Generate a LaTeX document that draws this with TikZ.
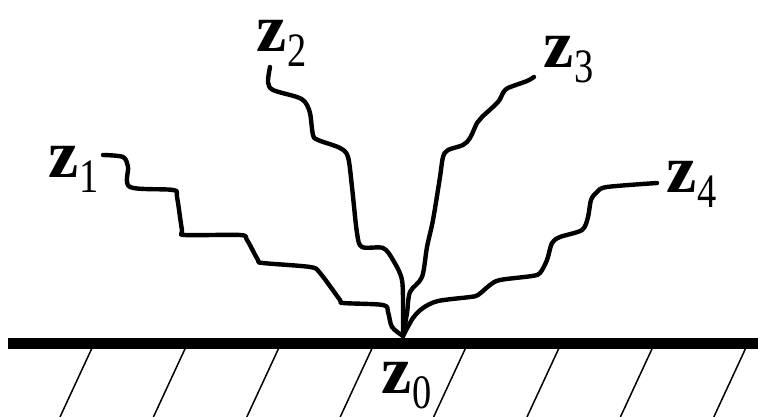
\documentclass[tikz,border=0pt]{standalone}
\usepackage{fontspec}
\setmainfont{Liberation Serif}
\usepackage{graphicx}
\usepackage{tikz}

\newcommand{\zlab}[1]{{\fontsize{68}{68}\selectfont\bfseries z}\kern1pt\raisebox{-15pt}{\scalebox{0.8}[1]{\fontsize{48}{48}\selectfont #1}}}

\begin{document}
\begin{tikzpicture}[
    x=1pt, y=-1pt,
    lab/.style={inner sep=0pt, anchor=base west},
    ground/.style={line width=11pt},
    hatch/.style={line width=1.5pt},
    walk/.style={line width=4.4pt, line join=round, line cap=round}
]
  \useasboundingbox (0,0) rectangle (758,417);

  % ground and hatching
  \coordinate (gw) at (8,343);
  \coordinate (ge) at (758,343);
  \draw[ground] (gw) -- (ge);
  \foreach \i in {0,...,7}
    \draw[hatch] ({92+93.4*\i},348) -- ({60+93.4*\i},417);

  % labels
  \node[lab] (z0) at (381,393) {\zlab{0}};
  \node[lab] (z1) at (48,178) {\zlab{1}};
  \node[lab] (z2) at (256,52) {\zlab{2}};
  \node[lab] (z3) at (543,68) {\zlab{3}};
  \node[lab] (z4) at (666,193) {\zlab{4}};

  \coordinate (root) at (403,336);
  \coordinate (e1) at (103,155);
  \coordinate (e2) at (270,67);
  \coordinate (e3) at (534,77);
  \coordinate (e4) at (657,183);

  % paths from z0 to z1..z4
  \draw[walk] plot[smooth, tension=0.5] coordinates {(root) (392,327) (388,312) (383,305)
    (343,303) (340,300) (320,273) (310,267) (263,263) (258,260) (247,240) (240,235)
    (185,235) (182,230) (177,197) (173,190) (130,187) (128,167) (123,157) (e1)};
  \draw[walk] plot[smooth, tension=0.5] coordinates {(root) (403,313) (402,280) (393,260)
    (383,248) (362,247) (357,233) (352,187) (348,157) (340,148) (318,140) (313,135)
    (310,113) (305,102) (297,97) (273,90) (268,82) (e2)};
  \draw[walk] plot[smooth, tension=0.5] coordinates {(root) (407,313) (410,292) (422,277)
    (427,247) (433,220) (440,177) (443,157) (448,150) (463,145) (470,138) (477,123)
    (482,117) (498,102) (503,93) (508,88) (527,81) (e3)};
  \draw[walk] plot[smooth, tension=0.5] coordinates {(root) (413,318) (423,308) (438,301)
    (470,297) (478,295) (490,285) (500,280) (532,276) (540,273) (547,260) (552,243)
    (560,237) (582,230) (588,217) (591,200) (597,192) (607,187) (e4)};
\end{tikzpicture}
\end{document}
